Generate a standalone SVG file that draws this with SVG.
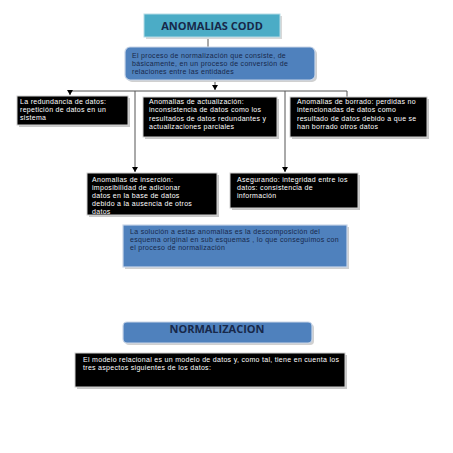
<svg xmlns="http://www.w3.org/2000/svg" width="453" height="453" viewBox="0 0 453 453">
<defs>
<style>
.blk{fill:#000;stroke:#d0d0d0;stroke-width:1}
.sh{fill:#c8c8c8}
.blue{fill:#4f81bd;stroke:#c9d6e8;stroke-width:1.2}
.teal{fill:#4bacc6;stroke:#b5dbe6;stroke-width:1}
.wt{font-family:"Liberation Sans",Arial,sans-serif;font-size:7px;letter-spacing:0.3px;fill:#fff}
.nt{font-family:"Liberation Sans",Arial,sans-serif;font-size:7px;letter-spacing:0.3px;fill:#17284a}
.hd{font-family:"Open Sans","Liberation Sans",sans-serif;font-size:11px;font-weight:bold;fill:#17284a}
.ln{stroke:#555;stroke-width:1;fill:none}
</style>
<marker id="ad" markerWidth="6" markerHeight="5" refX="3" refY="5" markerUnits="userSpaceOnUse" viewBox="0 0 6 5">
<path d="M0,0 L6,0 L3,5 Z" fill="#000"/>
</marker>
</defs>
<rect width="453" height="453" fill="#fff"/>

<g id="connectors">
<line class="ln" x1="208" y1="38" x2="208" y2="47"/>
<line class="ln" x1="215" y1="80" x2="215" y2="90" marker-end="url(#ad)"/>
<polyline class="ln" points="70,91 347,91 347,97"/>
<line class="ln" x1="70" y1="91" x2="70" y2="95" marker-end="url(#ad)"/>
<line class="ln" x1="135" y1="91" x2="135" y2="172" marker-end="url(#ad)"/>
<line class="ln" x1="285" y1="91" x2="285" y2="172" marker-end="url(#ad)"/>
</g>

<g id="title">
<rect x="146" y="16" width="136" height="23" fill="#d8d8d8"/>
<rect class="teal" x="144" y="14" width="136" height="23"/>
<text class="hd" x="212" y="29.5" text-anchor="middle">ANOMALIAS CODD</text>
</g>

<g id="proceso">
<rect x="127" y="49" width="190" height="33" rx="5" fill="#d0d0d0"/>
<rect class="blue" x="125" y="47" width="190" height="33" rx="5"/>
<text class="nt" x="132" y="58">El proceso de normalización que consiste, de</text>
<text class="nt" x="132" y="66.2">básicamente,  en un proceso de conversión de</text>
<text class="nt" x="132" y="74.4">relaciones entre  las entidades</text>
</g>

<g id="redundancia">
<rect class="sh" x="19" y="98" width="111" height="29"/>
<rect class="blk" x="17" y="96" width="111" height="29"/>
<text class="wt" x="20" y="104">La redundancia de datos:</text>
<text class="wt" x="20" y="112.2">repetición de datos en un</text>
<text class="wt" x="20" y="120.4">sistema</text>
</g>

<g id="actualizacion">
<rect class="sh" x="145" y="99" width="134" height="40"/>
<rect class="blk" x="143" y="97" width="134" height="40"/>
<text class="wt" x="149" y="104">Anomalias de actualización:</text>
<text class="wt" x="149" y="112.3">inconsistencia de datos como los</text>
<text class="wt" x="149" y="120.6">resultados de datos redundantes y</text>
<text class="wt" x="149" y="128.9">actualizaciones parciales</text>
</g>

<g id="borrado">
<rect class="sh" x="292" y="99" width="137" height="40"/>
<rect class="blk" x="290" y="97" width="137" height="40"/>
<text class="wt" x="297" y="104">Anomalias de borrado: perdidas no</text>
<text class="wt" x="297" y="112.3">intencionadas de datos como</text>
<text class="wt" x="297" y="120.6">resultado de datos debido a que se</text>
<text class="wt" x="297" y="128.9">han borrado otros datos</text>
</g>

<g id="insercion">
<rect class="sh" x="89" y="175" width="130" height="42"/>
<rect class="blk" x="87" y="173" width="130" height="42"/>
<text class="wt" x="92" y="181.5">Anomalias de inserción:</text>
<text class="wt" x="92" y="189.7">imposibilidad de  adicionar</text>
<text class="wt" x="92" y="197.9">datos en la base de datos</text>
<text class="wt" x="92" y="206.1">debido a  la ausencia de otros</text>
<text class="wt" x="92" y="214.3">datos</text>
</g>

<g id="asegurando">
<rect class="sh" x="232" y="175" width="128" height="35"/>
<rect class="blk" x="230" y="173" width="128" height="35"/>
<text class="wt" x="237" y="181.5">Asegurando: integridad entre los</text>
<text class="wt" x="237" y="189.7">datos: consistencia de</text>
<text class="wt" x="237" y="197.9">información</text>
</g>

<g id="solucion">
<rect x="125" y="227" width="224" height="42" fill="#d0d0d0"/>
<rect class="blue" x="123" y="225" width="224" height="42"/>
<text class="nt" x="130" y="234">La solución a estas anomalias  es la descomposición del</text>
<text class="nt" x="130" y="242.2">esquema original  en sub esquemas , lo que conseguimos con</text>
<text class="nt" x="130" y="250.4">el proceso de normalización</text>
</g>

<g id="normalizacion">
<rect x="125" y="324" width="189" height="21" rx="4" fill="#d0d0d0"/>
<rect class="blue" x="123" y="322" width="189" height="21" rx="4"/>
<text class="hd" x="217" y="333" text-anchor="middle">NORMALIZACION</text>
</g>

<g id="modelo">
<rect class="sh" x="77" y="355" width="270" height="34"/>
<rect class="blk" x="75" y="353" width="270" height="34"/>
<text class="wt" x="83" y="362">El modelo relacional es un modelo de datos y, como tal, tiene en cuenta los</text>
<text class="wt" x="83" y="370.2">tres aspectos siguientes  de los datos:</text>
</g>
</svg>
